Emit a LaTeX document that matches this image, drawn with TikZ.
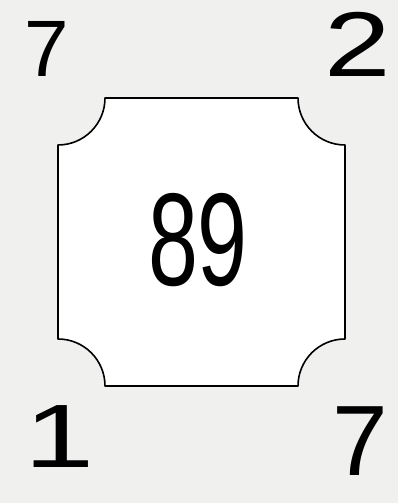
\documentclass[tikz,border=0pt]{standalone}
\usepackage{fontspec}
\setmainfont{Liberation Sans}
\definecolor{bg}{HTML}{F0F0EF}
\begin{document}
\begin{tikzpicture}[x=1pt,y=1pt,
  digit/.style={inner sep=0pt,outer sep=0pt,text=black},
  card/.style={draw=black,line width=1.6pt,fill=white,line join=round}]
\fill[bg] (0,0) rectangle (398,503);
\useasboundingbox (0,0) rectangle (398,503);
\path[card] (105,405) -- (298,405) arc[start angle=180,end angle=270,radius=47]
  -- (345,164) arc[start angle=90,end angle=180,radius=47]
  -- (105,117) arc[start angle=0,end angle=90,radius=47]
  -- (58,358) arc[start angle=270,end angle=360,radius=47] -- cycle;
\node[digit,font=\fontsize{80}{80}\selectfont] (tl) at (47,454) {7};
\node[digit,font=\fontsize{92}{92}\selectfont,xscale=1.3] (tr) at (358,459) {2};
\node[digit,font=\fontsize{90}{90}\selectfont,xscale=1.4] (bl) at (60,66) {1};
\node[digit,font=\fontsize{100}{100}\selectfont] (br) at (360,62) {7};
\node[digit,font=\fontsize{132}{132}\selectfont,xscale=0.68] (mid) at (198,263) {89};
\end{tikzpicture}
\end{document}
